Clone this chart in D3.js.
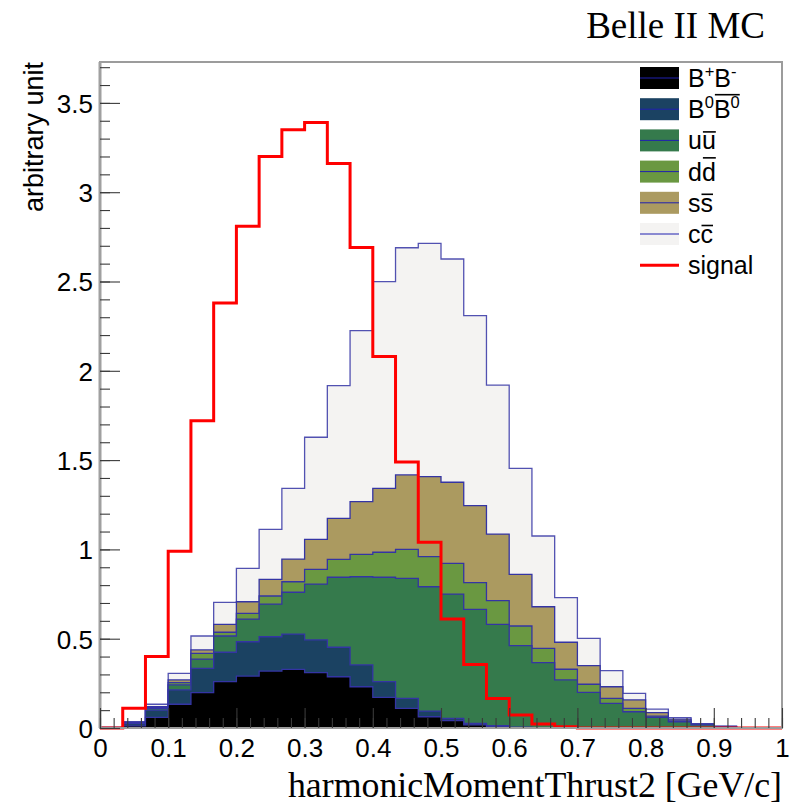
<!DOCTYPE html>
<html>
<head>
<meta charset="utf-8">
<script src="https://cdn.jsdelivr.net/npm/d3@7"></script>
<style>
  body { margin: 0; background: #fff; }
  svg { display: block; font-family: "Liberation Sans", Arial, sans-serif; }
</style>
</head>
<body>
<svg width="795" height="806"></svg>
<script>
// **** data: 30 bins between 0 and 1 ****
const nBins = 30;
const samples = ["BpBm", "B0B0", "uu", "dd", "ss", "cc"];

const BpBm = [0, 0.012, 0.06, 0.133, 0.198, 0.26, 0.291, 0.319, 0.328, 0.31, 0.287, 0.231, 0.172, 0.11, 0.063, 0.042, 0.017, 0.006, 0.002, 0, 0, 0, 0, 0, 0, 0, 0, 0, 0, 0];
const B0B0 = [0, 0.013, 0.04, 0.08, 0.136, 0.164, 0.192, 0.192, 0.198, 0.183, 0.165, 0.122, 0.088, 0.056, 0.032, 0.012, 0.009, 0.007, 0.003, 0.002, 0, 0, 0, 0, 0, 0, 0, 0, 0, 0];
const uu   = [0, 0.005, 0.01, 0.028, 0.052, 0.091, 0.127, 0.183, 0.234, 0.313, 0.392, 0.494, 0.584, 0.672, 0.696, 0.696, 0.638, 0.567, 0.456, 0.364, 0.269, 0.2, 0.138, 0.091, 0.06, 0.035, 0.018, 0.006, 0, 0];
const dd   = [0, 0.001, 0.005, 0.013, 0.032, 0.021, 0.032, 0.045, 0.059, 0.082, 0.1, 0.125, 0.14, 0.162, 0.168, 0.172, 0.15, 0.133, 0.11, 0.08, 0.06, 0.045, 0.028, 0.019, 0.007, 0.005, 0.002, 0.002, 0, 0];
const ss   = [0, 0.001, 0.005, 0.015, 0.019, 0.044, 0.065, 0.093, 0.127, 0.168, 0.23, 0.295, 0.358, 0.417, 0.448, 0.454, 0.431, 0.373, 0.289, 0.233, 0.151, 0.104, 0.065, 0.047, 0.019, 0.01, 0.002, 0.001, 0, 0];
const cc   = [0.005, 0.003, 0.013, 0.037, 0.078, 0.123, 0.187, 0.28, 0.396, 0.572, 0.743, 0.958, 1.157, 1.272, 1.307, 1.25, 1.064, 0.834, 0.594, 0.396, 0.25, 0.153, 0.09, 0.037, 0.02, 0.008, 0.003, 0.002, 0, 0];
const signal = [0, 0.11, 0.40, 0.99, 1.72, 2.38, 2.81, 3.20, 3.35, 3.39, 3.16, 2.69, 2.08, 1.49, 1.04, 0.61, 0.355, 0.165, 0.073, 0.022, 0.007, 0, 0, 0, 0, 0, 0, 0, 0, 0];

const xTicks = [0, 0.1, 0.2, 0.3, 0.4, 0.5, 0.6, 0.7, 0.8, 0.9, 1];
const yTicks = [0, 0.5, 1, 1.5, 2, 2.5, 3, 3.5];

const colors = {
    BpBm: "#000000",
    B0B0: "#1b4262",
    uu: "#357a4c",
    dd: "#6a9841",
    ss: "#ab9a60",
    cc: "#f4f3f2"
};
const outline = "#3434a4";

// **** scales ****
const x = d3.scaleLinear().domain([0, 1]).range([100, 782]);
const y = d3.scaleLinear().domain([0, 3.729]).range([728, 62]);

const svg = d3.select("svg");

// table for d3.stack
const series = { BpBm, B0B0, uu, dd, ss, cc };
const table = d3.range(nBins).map(i => {
    const row = {};
    samples.forEach(k => row[k] = series[k][i]);
    return row;
});
const stacked = d3.stack().keys(samples)(table);

// step points: one per bin low edge plus the last high edge
function stepPoints(vals) {
    const pts = vals.map((v, i) => ({ x: i / nBins, v: v }));
    pts.push({ x: 1, v: vals[vals.length - 1] });
    return pts;
}

const area = d3.area()
    .curve(d3.curveStepAfter)
    .x(d => x(d.x))
    .y0(y(0))
    .y1(d => y(d.v));

// like THStack: draw cumulative histograms from the top one down
stacked.slice().reverse().forEach(layer => {
    const cum = layer.map(d => d[1]);
    svg.append("path")
        .attr("class", "stack-" + layer.key)
        .attr("d", area(stepPoints(cum)))
        .style("fill", colors[layer.key])
        .style("stroke", outline)
        .style("stroke-width", 1.3)
        .style("stroke-opacity", layer.key === "cc" ? 0.85 : 1);
});

const line = d3.line()
    .curve(d3.curveStepAfter)
    .x(d => x(d.x))
    .y(d => y(d.v));

svg.append("path")
    .attr("class", "signal")
    .attr("d", line(stepPoints(signal)))
    .style("fill", "none")
    .style("stroke", "#ff0000")
    .style("stroke-width", 3);

// **** frame and axes ****
svg.append("rect")
    .attr("x", x(0)).attr("y", y.range()[1])
    .attr("width", x(1) - x(0)).attr("height", y(0) - y.range()[1])
    .style("fill", "none")
    .style("stroke", "#9c9c9c")
    .style("stroke-width", 2);

svg.append("line")
    .attr("x1", x(0)).attr("x2", x(0))
    .attr("y1", y.range()[1]).attr("y2", y(0))
    .style("stroke", "#a0a0a0")
    .style("stroke-width", 3);

const minorX = d3.range(0, 1.0001, 0.02);
const minorY = d3.range(0, 3.70001, 0.1);

svg.append("g").attr("class", "x minor")
    .attr("transform", `translate(0,${y(0)})`)
    .call(d3.axisBottom(x).tickValues(minorX).tickSize(-10).tickFormat(""));

svg.append("g").attr("class", "x axis")
    .attr("transform", `translate(0,${y(0)})`)
    .call(d3.axisBottom(x).tickValues(xTicks).tickSize(-20).tickFormat(d3.format("~g")));

svg.append("g").attr("class", "y minor")
    .attr("transform", `translate(${x(0)},0)`)
    .call(d3.axisRight(y).tickValues(minorY).tickSize(10).tickFormat(""));

svg.append("g").attr("class", "y axis")
    .attr("transform", `translate(${x(0)},0)`)
    .call(d3.axisRight(y).tickValues(yTicks).tickSize(20).tickFormat(d3.format("~g")));

svg.selectAll(".domain").remove();
svg.selectAll(".tick line").style("stroke", "#3a3a3a").style("stroke-width", 1.1);

svg.selectAll(".x.axis .tick text")
    .attr("y", 29).attr("dy", null)
    .style("font-size", "26px").style("fill", "#000")
    .style("font-family", "'Liberation Sans', Arial, sans-serif");

svg.selectAll(".y.axis .tick text")
    .attr("x", -7).attr("dy", "0.36em")
    .attr("text-anchor", "end")
    .style("font-size", "26px").style("fill", "#000")
    .style("font-family", "'Liberation Sans', Arial, sans-serif");

// **** labels ****
svg.append("text")
    .attr("class", "label")
    .attr("transform", "translate(43,62) rotate(-90)")
    .attr("text-anchor", "end")
    .style("font-size", "27px")
    .text("arbitrary unit");

svg.append("text")
    .attr("class", "label")
    .attr("x", 782).attr("y", 797)
    .attr("text-anchor", "end")
    .style("font-family", "'Liberation Serif', 'Times New Roman', serif")
    .style("font-size", "35.8px")
    .text("harmonicMomentThrust2 [GeV/c]");

svg.append("text")
    .attr("class", "title")
    .attr("x", 765).attr("y", 38)
    .attr("text-anchor", "end")
    .style("font-family", "'Liberation Serif', 'Times New Roman', serif")
    .style("font-size", "37px")
    .text("Belle II MC");

// **** legend ****
// parts: [text, superscript?, overline offset in em (0 = none)]
const legendEntries = [
    { key: "BpBm", parts: [["B", 0, 0], ["+", 1, 0], ["B", 0, 0], ["-", 1, 0]] },
    { key: "B0B0", parts: [["B", 0, 0], ["0", 1, 0], ["B", 0, 0.86], ["0", 1, 0.86]] },
    { key: "uu", parts: [["u", 0, 0], ["u", 0, 0.62]] },
    { key: "dd", parts: [["d", 0, 0], ["d", 0, 0.83]] },
    { key: "ss", parts: [["s", 0, 0], ["s", 0, 0.62]] },
    { key: "cc", parts: [["c", 0, 0], ["c", 0, 0.62]] },
    { key: "signal", parts: [["signal", 0, 0]] }
];

const legendFont = 25;
legendEntries.forEach((entry, i) => {
    const cy = 78 + i * 31.2;
    const g = svg.append("g").attr("class", "legend-entry");

    if (entry.key === "signal") {
        g.append("line")
            .attr("x1", 640).attr("x2", 679).attr("y1", cy).attr("y2", cy)
            .style("stroke", "#ff0000").style("stroke-width", 3);
    } else {
        g.append("rect")
            .attr("x", 640).attr("y", cy - 11).attr("width", 39).attr("height", 22)
            .style("fill", colors[entry.key]);
        g.append("line")
            .attr("x1", 640).attr("x2", 679).attr("y1", cy).attr("y2", cy)
            .style("stroke", "#2020b0").style("stroke-width", 1);
    }

    const baseline = cy + 9;
    const t = g.append("text")
        .attr("x", 688).attr("y", baseline)
        .style("font-size", legendFont + "px");

    let shifted = false;
    entry.parts.forEach(p => {
        const ts = t.append("tspan").text(p[0]);
        if (p[1] && !shifted) { ts.attr("dy", -0.42 * legendFont).style("font-size", "0.66em"); shifted = true; }
        else if (p[1]) { ts.style("font-size", "0.66em"); }
        else if (shifted) { ts.attr("dy", 0.42 * legendFont); shifted = false; }
    });

    // overlines
    const node = t.node();
    let idx = 0;
    let over = null;
    entry.parts.forEach(p => {
        const n = p[0].length;
        if (p[2] > 0) {
            const x0 = node.getStartPositionOfChar(idx).x;
            const x1 = node.getEndPositionOfChar(idx + n - 1).x;
            if (!over) over = { x0: x0, x1: x1, off: p[2] };
            else over.x1 = x1;
        }
        idx += n;
    });
    if (over) {
        g.append("line")
            .attr("x1", over.x0 + 1).attr("x2", over.x1)
            .attr("y1", baseline - over.off * legendFont - 2)
            .attr("y2", baseline - over.off * legendFont - 2)
            .style("stroke", "#000").style("stroke-width", 1.6);
    }
});
</script>
</body>
</html>
